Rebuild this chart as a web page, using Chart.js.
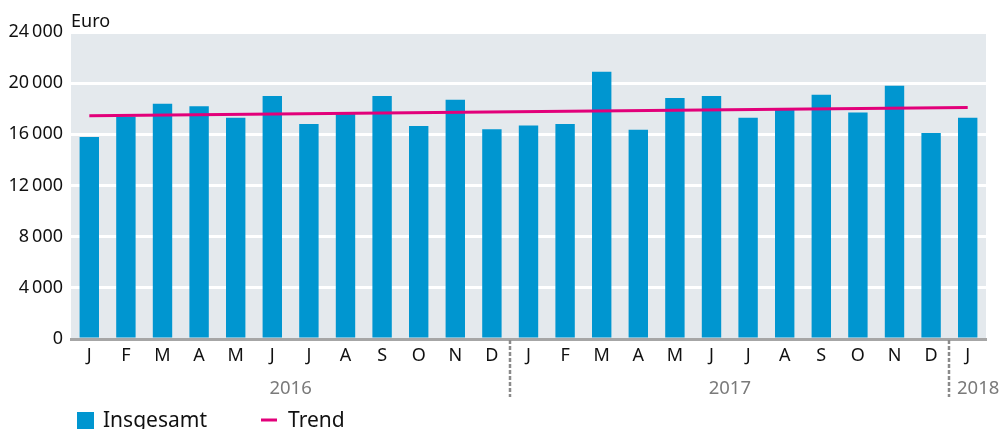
<!DOCTYPE html>
<html>
<head>
<meta charset="utf-8">
<script src="https://cdn.jsdelivr.net/npm/chart.js@4/dist/chart.umd.min.js"></script>
<style>
  html, body { margin: 0; padding: 0; background: #ffffff; }
  #wrap { width: 1002px; height: 429px; }
</style>
</head>
<body>
<div id="wrap"><canvas id="c" width="1002" height="429"></canvas></div>
<script>
// ---- data ----
const months = ['J','F','M','A','M','J','J','A','S','O','N','D',
                'J','F','M','A','M','J','J','A','S','O','N','D','J'];
const insgesamt = [15800,17400,18400,18200,17300,19000,16800,17600,19000,16650,18700,16400,
                   16700,16800,20900,16350,18850,19000,17300,17900,19100,17700,19800,16100,17300];
const trend = [17450,null,null,null,null,null,null,null,null,null,null,null,
               null,null,null,null,null,null,null,null,null,null,null,null,18100];
const years = ['2016','2017','2018'];
const yearFirst = [0,12,24];
const yearLast = [11,23,24];
const yTicks = [0,4000,8000,12000,16000,20000,24000];
const seriesNames = ['Insgesamt','Trend'];
const unitLabel = 'Euro';

const BAR = '#0096d0';
const TREND = '#e2007a';
const FONT = '"Noto Sans", "DejaVu Sans", sans-serif';

function fmt(v) {
  const s = String(v);
  if (s.length > 3) return s.slice(0, s.length - 3) + '\u2009' + s.slice(s.length - 3);
  return s;
}

const decor = {
  id: 'decor',
  beforeDraw(chart) {
    const {ctx, chartArea: a} = chart;
    ctx.save();
    ctx.fillStyle = '#e4e9ed';
    ctx.fillRect(a.left, a.top, a.right - a.left, a.bottom - a.top);
    ctx.restore();
  },
  afterDraw(chart) {
    const {ctx, chartArea: a} = chart;
    const x = chart.scales.x;
    ctx.save();
    // unit label
    ctx.font = '18px ' + FONT;
    ctx.fillStyle = '#111111';
    ctx.textAlign = 'left';
    ctx.textBaseline = 'alphabetic';
    ctx.fillText(unitLabel, a.left, 27);

    // year separators and labels
    ctx.strokeStyle = '#8a8a8a';
    ctx.lineWidth = 2.5;
    ctx.setLineDash([4, 2]);
    const seps = [];
    for (let i = 1; i < years.length; i++) {
      const sx = Math.round((x.getPixelForValue(yearLast[i - 1]) + x.getPixelForValue(yearFirst[i])) / 2);
      seps.push(sx);
      ctx.beginPath();
      ctx.moveTo(sx, a.bottom + 1);
      ctx.lineTo(sx, 397);
      ctx.stroke();
    }
    ctx.setLineDash([]);
    ctx.font = '18.5px ' + FONT;
    ctx.fillStyle = '#7a7a7a';
    ctx.textBaseline = 'middle';
    ctx.textAlign = 'left';
    for (let i = 0; i < years.length; i++) {
      const c = (x.getPixelForValue(yearFirst[i]) + x.getPixelForValue(yearLast[i])) / 2;
      const w = ctx.measureText(years[i]).width;
      let left = c - w / 2;
      if (i > 0) left = Math.max(left, seps[i - 1] + 8);
      ctx.fillText(years[i], left, 389);
    }

    // legend
    ctx.fillStyle = BAR;
    ctx.fillRect(77, 412, 17, 17);
    ctx.strokeStyle = TREND;
    ctx.lineWidth = 3;
    ctx.beginPath();
    ctx.moveTo(261, 420);
    ctx.lineTo(277, 420);
    ctx.stroke();
    ctx.font = '21px ' + FONT;
    ctx.fillStyle = '#111111';
    ctx.textBaseline = 'alphabetic';
    ctx.fillText(seriesNames[0], 103, 427);
    ctx.fillText(seriesNames[1], 288, 427);
    ctx.restore();
  }
};

new Chart(document.getElementById('c'), {
  data: {
    labels: months,
    datasets: [
      {
        type: 'line',
        label: seriesNames[1],
        data: trend,
        borderColor: TREND,
        borderWidth: 3,
        pointRadius: 0,
        spanGaps: true,
        fill: false,
        order: 0
      },
      {
        type: 'bar',
        label: seriesNames[0],
        data: insgesamt,
        backgroundColor: BAR,
        barPercentage: 0.53,
        categoryPercentage: 1.0,
        order: 1
      }
    ]
  },
  options: {
    responsive: false,
    animation: false,
    devicePixelRatio: 1,
    layout: { padding: { left: 0, top: 32, right: 16, bottom: 0 } },
    plugins: {
      legend: { display: false },
      tooltip: { enabled: false }
    },
    scales: {
      x: {
        type: 'category',
        offset: true,
        grid: { display: false, drawTicks: false },
        border: { display: true, color: '#a6a6a6', width: 3 },
        ticks: {
          color: '#111111',
          font: { family: FONT, size: 18 },
          padding: 6,
          maxRotation: 0,
          autoSkip: false
        },
        afterFit(s) { s.height = 90; }
      },
      y: {
        min: 0,
        max: 24000,
        afterBuildTicks(s) { s.ticks = yTicks.map(v => ({value: v})); },
        grid: {
          color: ctx => (ctx.tick && ctx.tick.value === 0) ? 'rgba(0,0,0,0)' : '#ffffff',
          lineWidth: 3,
          drawTicks: false
        },
        border: { display: false },
        ticks: {
          color: '#111111',
          font: { family: FONT, size: 18 },
          padding: 8,
          callback: v => fmt(v)
        },
        afterFit(s) { s.width = 71; }
      }
    }
  },
  plugins: [decor]
});
</script>
</body>
</html>
